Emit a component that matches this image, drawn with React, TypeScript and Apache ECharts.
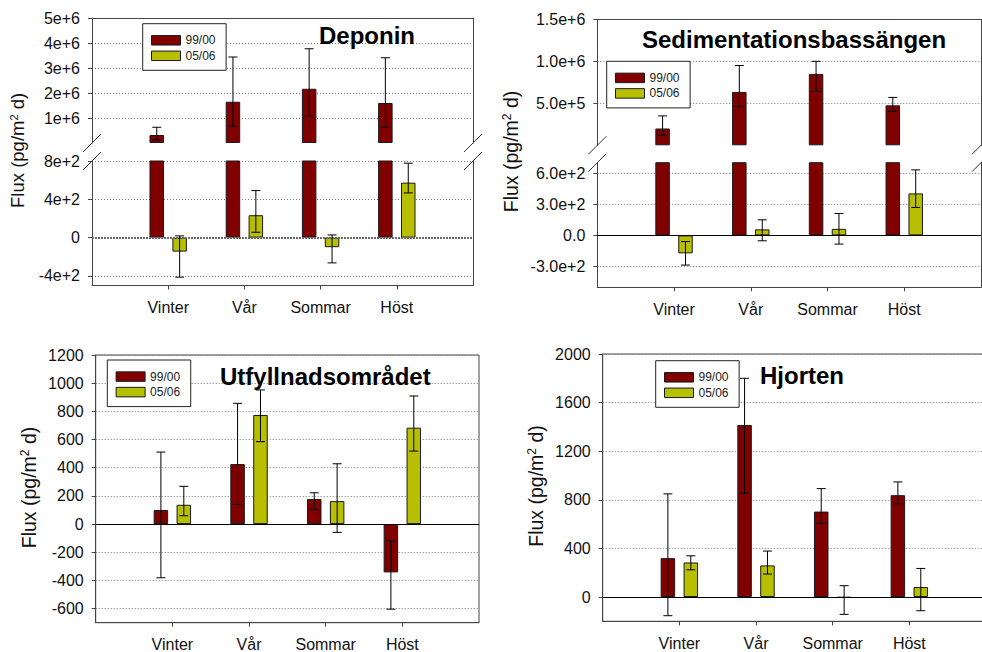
import React, { useEffect, useRef } from 'react';
import * as echarts from 'echarts';

// ---------- data ----------
const seasons = ['Vinter', 'Vår', 'Sommar', 'Höst'];
const axisCats = ['', ...seasons, ''];
const seriesNames = ['99/00', '05/06'];

// Deponin
const dep9900 = [3.2e5, 1.65e6, 2.17e6, 1.6e6];
const dep9900Lo = [1.2e5, 0.67e6, 1.07e6, 0.63e6];
const dep9900Hi = [6.3e5, 3.44e6, 3.77e6, 3.41e6];
const dep0506 = [-146, 234, -100, 574];
const dep0506Lo = [-413, 56, -264, 467];
const dep0506Hi = [18, 491, 28, 777];

// Sedimentationsbassängen
const sed9900 = [2.0e5, 6.35e5, 8.5e5, 4.76e5];
const sed9900Lo = [1.2e5, 4.6e5, 6.4e5, 4.05e5];
const sed9900Hi = [3.5e5, 9.5e5, 1.0e6, 5.7e5];
const sed0506 = [-173, 58, 63, 404];
const sed0506Lo = [-286, -52, -84, 269];
const sed0506Hi = [-60, 150, 211, 631];

// Utfyllnadsområdet
const utf9900 = [100, 426, 178, -343];
const utf9900Lo = [-381, 140, 104, -604];
const utf9900Hi = [511, 857, 222, -118];
const utf0506 = [137, 774, 163, 684];
const utf0506Lo = [59, 585, -59, 518];
const utf0506Hi = [268, 952, 428, 909];

// Hjorten
const hjo9900 = [320, 1416, 703, 838];
const hjo9900Lo = [-154, 854, 605, 766];
const hjo9900Hi = [849, 1800, 892, 947];
const hjo0506 = [284, 260, -5, 82];
const hjo0506Lo = [224, 189, -143, -113];
const hjo0506Hi = [339, 378, 93, 235];

// ticks
const depUpperTicks = [1e6, 2e6, 3e6, 4e6, 5e6];
const depUpperLabels = ['1e+6', '2e+6', '3e+6', '4e+6', '5e+6'];
const depLowerTicks = [-400, 0, 400, 800];
const depLowerLabels = ['-4e+2', '0', '4e+2', '8e+2'];
const sedUpperTicks = [5e5, 1e6, 1.5e6];
const sedUpperLabels = ['5.0e+5', '1.0e+6', '1.5e+6'];
const sedLowerTicks = [-300, 0, 300, 600];
const sedLowerLabels = ['-3.0e+2', '0.0', '3.0e+2', '6.0e+2'];
const utfTicks = [-600, -400, -200, 0, 200, 400, 600, 800, 1000, 1200];
const utfLabels = ['-600', '-400', '-200', '0', '200', '400', '600', '800', '1000', '1200'];
const hjoTicks = [0, 400, 800, 1200, 1600, 2000];
const hjoLabels = ['0', '400', '800', '1200', '1600', '2000'];

const titles = ['Deponin', 'Sedimentationsbassängen', 'Utfyllnadsområdet', 'Hjorten'];
const yTitleText = 'Flux (pg/m{sup|2} d)';

// ---------- styles ----------
const FONT = "'Liberation Sans', Arial, Helvetica, sans-serif";
const RED = '#800000';
const YEL = '#b8be00';
const BORDER = '#1a1a1a';
const AXIS = '#444';
const GRIDLINE = '#7a7a7a';
const TXT = '#111';
const BAR_W = 14.5;
const BAR_GAP = 0.58;
const OFFSET = (BAR_W * (1 + BAR_GAP)) / 2;

const fmt = (ticks: number[], labels: string[]) => (v: number) => {
  const i = ticks.findIndex((t) => Math.abs(t - v) <= Math.abs(t) * 1e-9 + 1e-9);
  return i >= 0 ? labels[i] : '';
};

const gridBox = (left: number, top: number, width: number, height: number, frame: boolean) => ({
  left, top, width, height,
  containLabel: false,
  outerBoundsMode: 'none',
  show: frame,
  borderColor: AXIS,
  borderWidth: 1,
  backgroundColor: 'transparent',
});

const xBottom = (grid: number) => ({
  type: 'category', gridIndex: grid, data: axisCats, boundaryGap: false, position: 'bottom',
  axisLine: { show: true, onZero: false, lineStyle: { color: AXIS, width: 1 } },
  axisTick: {
    show: true, inside: false, length: 4,
    interval: (i: number) => i >= 1 && i <= seasons.length,
    lineStyle: { color: AXIS },
  },
  axisLabel: { show: true, interval: 0, margin: 14, fontSize: 16, color: TXT, fontFamily: FONT },
  splitLine: { show: false },
});

const xTop = (grid: number) => ({
  type: 'category', gridIndex: grid, data: axisCats, boundaryGap: false, position: 'top',
  axisLine: { show: true, onZero: false, lineStyle: { color: AXIS, width: 1 } },
  axisTick: { show: false }, axisLabel: { show: false }, splitLine: { show: false },
});

const yLeft = (grid: number, min: number, max: number, step: number, ticks: number[], labels: string[]) => ({
  type: 'value', gridIndex: grid, position: 'left', min, max,
  minInterval: step, maxInterval: step, splitNumber: Math.round((max - min) / step),
  axisLine: { show: true, onZero: false, lineStyle: { color: AXIS, width: 1 } },
  axisTick: { show: true, inside: false, length: 4, customValues: ticks, lineStyle: { color: AXIS } },
  axisLabel: {
    show: true, customValues: ticks, formatter: fmt(ticks, labels),
    showMinLabel: true, showMaxLabel: true,
    margin: 12, fontSize: 16, color: TXT, fontFamily: FONT,
  },
  splitLine: { show: true, showMinLine: true, showMaxLine: true, lineStyle: { color: GRIDLINE, width: 1, type: [1, 2] } },
});

const yRight = (grid: number) => ({
  type: 'value', gridIndex: grid, position: 'right', min: 0, max: 1,
  axisLine: { show: true, onZero: false, lineStyle: { color: AXIS, width: 1 } },
  axisTick: { show: false }, axisLabel: { show: false }, splitLine: { show: false },
});

const zeroLine = (style: any) => ({
  silent: true, symbol: ['none', 'none'], label: { show: false },
  lineStyle: style, data: [{ yAxis: 0 }],
});

const bar = (name: string, x: number, y: number, values: number[], color: string, zl?: any) => ({
  type: 'bar', name, xAxisIndex: x, yAxisIndex: y,
  data: values.map((v, i) => [seasons[i], v]),
  barWidth: BAR_W, barGap: `${BAR_GAP * 100}%`,
  itemStyle: { color, borderColor: BORDER, borderWidth: 1 },
  clip: true, silent: true,
  ...(zl ? { markLine: zl } : {}),
});

const err = (x: number, y: number, lo: number[], hi: number[], side: number) => ({
  type: 'custom', xAxisIndex: x, yAxisIndex: y, silent: true, clip: true, z: 5,
  data: seasons.map((s, i) => [s, lo[i], hi[i]]),
  encode: { x: 0, y: [1, 2] },
  renderItem: (_p: any, api: any) => {
    const c = api.value(0);
    const a = api.coord([c, api.value(1)]);
    const b = api.coord([c, api.value(2)]);
    const x0 = a[0] + side * OFFSET;
    const cap = 4.5;
    const style = { stroke: '#000', lineWidth: 1 };
    return {
      type: 'group',
      children: [
        { type: 'line', shape: { x1: x0, y1: a[1], x2: x0, y2: b[1] }, style },
        { type: 'line', shape: { x1: x0 - cap, y1: a[1], x2: x0 + cap, y2: a[1] }, style },
        { type: 'line', shape: { x1: x0 - cap, y1: b[1], x2: x0 + cap, y2: b[1] }, style },
      ],
    };
  },
});

const legendAt = (left: number, top: number) => ({
  show: true, orient: 'vertical', left, top, data: seriesNames, selectedMode: false,
  icon: 'rect', itemWidth: 29, itemHeight: 9.5, itemGap: 3.5,
  padding: [10.6, 10.6, 8.5, 8.3],
  borderColor: '#222', borderWidth: 1, backgroundColor: '#fff',
  itemStyle: { borderColor: BORDER, borderWidth: 1 },
  textStyle: { fontSize: 12, lineHeight: 12, color: '#222', fontFamily: FONT },
});

const slash = (cx: number, cy: number) => ({
  type: 'line', silent: true, z: 10,
  shape: { x1: cx - 9, y1: cy + 9, x2: cx + 9, y2: cy - 9 },
  style: { stroke: '#333', lineWidth: 1 },
});

const yTitle = (x: number, y: number, size: number) => ({
  type: 'text', x, y, rotation: Math.PI / 2, silent: true, z: 10,
  style: {
    text: yTitleText, fontSize: size, fontFamily: FONT, fill: TXT,
    align: 'center', verticalAlign: 'middle', textAlign: 'center', textVerticalAlign: 'middle',
    rich: { sup: { fontSize: Math.round(size * 0.62), fontFamily: FONT, fill: TXT, color: TXT, verticalAlign: 'top' } },
  },
});

const titleAt = (text: string, left: number, top: number) => ({
  text, left, top, padding: 0,
  textStyle: { fontSize: 24, fontWeight: 'bold', color: '#000', fontFamily: FONT },
});

// panel geometry
const P1 = { L: 92, R: 473, T: 18, B1: 143, B2: 161, B: 285.5 };
const P2 = { L: 597.3, R: 981, T: 19.3, B1: 145.3, B2: 162.7, B: 287.3 };
const P3 = { L: 95.7, R: 479, T: 355, B: 622.7 };
const P4 = { L: 602.7, R: 986, T: 354, B: 621.3 };

function buildOption() {
  const solidZero = zeroLine({ color: '#000', width: 1, type: 'solid' });
  const depZero = zeroLine({ color: '#6a6a6a', width: 2, type: [2, 1] });
  return {
    animation: false,
    backgroundColor: '#fff',
    textStyle: { fontFamily: FONT },
    title: [
      titleAt(titles[0], 319, 23),
      titleAt(titles[1], 642, 27.4),
      titleAt(titles[2], 220, 364),
      titleAt(titles[3], 760, 363),
    ],
    legend: [legendAt(142.7, 23.7), legendAt(606.7, 61.3), legendAt(107.3, 360), legendAt(655.7, 360.7)],
    grid: [
      gridBox(P1.L, P1.T, P1.R - P1.L, P1.B1 - P1.T, false),
      gridBox(P1.L, P1.B2, P1.R - P1.L, P1.B - P1.B2, false),
      gridBox(P2.L, P2.T, P2.R - P2.L, P2.B1 - P2.T, false),
      gridBox(P2.L, P2.B2, P2.R - P2.L, P2.B - P2.B2, false),
      gridBox(P3.L, P3.T, P3.R - P3.L, P3.B - P3.T, true),
      gridBox(P4.L, P4.T, P4.R - P4.L, P4.B - P4.T, true),
    ],
    xAxis: [xTop(0), xBottom(1), xTop(2), xBottom(3), xBottom(4), xBottom(5)],
    yAxis: [
      yLeft(0, 0, 5e6, 1e6, depUpperTicks, depUpperLabels),
      yLeft(1, -500, 800, 400, depLowerTicks, depLowerLabels),
      yLeft(2, 0, 1.5e6, 5e5, sedUpperTicks, sedUpperLabels),
      yLeft(3, -500, 700, 300, sedLowerTicks, sedLowerLabels),
      yLeft(4, -700, 1200, 200, utfTicks, utfLabels),
      yLeft(5, -200, 2000, 400, hjoTicks, hjoLabels),
      yRight(0), yRight(1), yRight(2), yRight(3),
    ],
    series: [
      // Deponin upper
      bar(seriesNames[0], 0, 0, dep9900, RED),
      bar(seriesNames[1], 0, 0, [], YEL),
      err(0, 0, dep9900Lo, dep9900Hi, -1),
      // Deponin lower
      bar(seriesNames[0], 1, 1, dep9900, RED),
      bar(seriesNames[1], 1, 1, dep0506, YEL, depZero),
      err(1, 1, dep0506Lo, dep0506Hi, 1),
      // Sed upper
      bar(seriesNames[0], 2, 2, sed9900, RED),
      bar(seriesNames[1], 2, 2, [], YEL),
      err(2, 2, sed9900Lo, sed9900Hi, -1),
      // Sed lower
      bar(seriesNames[0], 3, 3, sed9900, RED),
      bar(seriesNames[1], 3, 3, sed0506, YEL, solidZero),
      err(3, 3, sed0506Lo, sed0506Hi, 1),
      // Utfyllnad
      bar(seriesNames[0], 4, 4, utf9900, RED),
      bar(seriesNames[1], 4, 4, utf0506, YEL, solidZero),
      err(4, 4, utf9900Lo, utf9900Hi, -1),
      err(4, 4, utf0506Lo, utf0506Hi, 1),
      // Hjorten
      bar(seriesNames[0], 5, 5, hjo9900, RED),
      bar(seriesNames[1], 5, 5, hjo0506, YEL, solidZero),
      err(5, 5, hjo9900Lo, hjo9900Hi, -1),
      err(5, 5, hjo0506Lo, hjo0506Hi, 1),
    ],
    graphic: [
      slash(P1.L, P1.B1), slash(P1.L, P1.B2), slash(P1.R, P1.B1), slash(P1.R, P1.B2),
      slash(P2.L, P2.B1), slash(P2.L, P2.B2), slash(P2.R, P2.B1), slash(P2.R, P2.B2),
      yTitle(17.8, 150.4, 18.5),
      yTitle(510.5, 151.5, 19.5),
      yTitle(28.5, 487.5, 19.5),
      yTitle(535.5, 486, 19.5),
    ],
  };
}

export default function App() {
  const ref = useRef<HTMLDivElement>(null);
  useEffect(() => {
    if (!ref.current) return;
    const chart = echarts.init(ref.current, null, { renderer: 'svg' });
    chart.setOption(buildOption() as any);
    return () => chart.dispose();
  }, []);
  return (
    <div
      ref={ref}
      style={{ position: 'absolute', left: 0, top: 0, width: 982, height: 652, background: '#fff' }}
    />
  );
}
